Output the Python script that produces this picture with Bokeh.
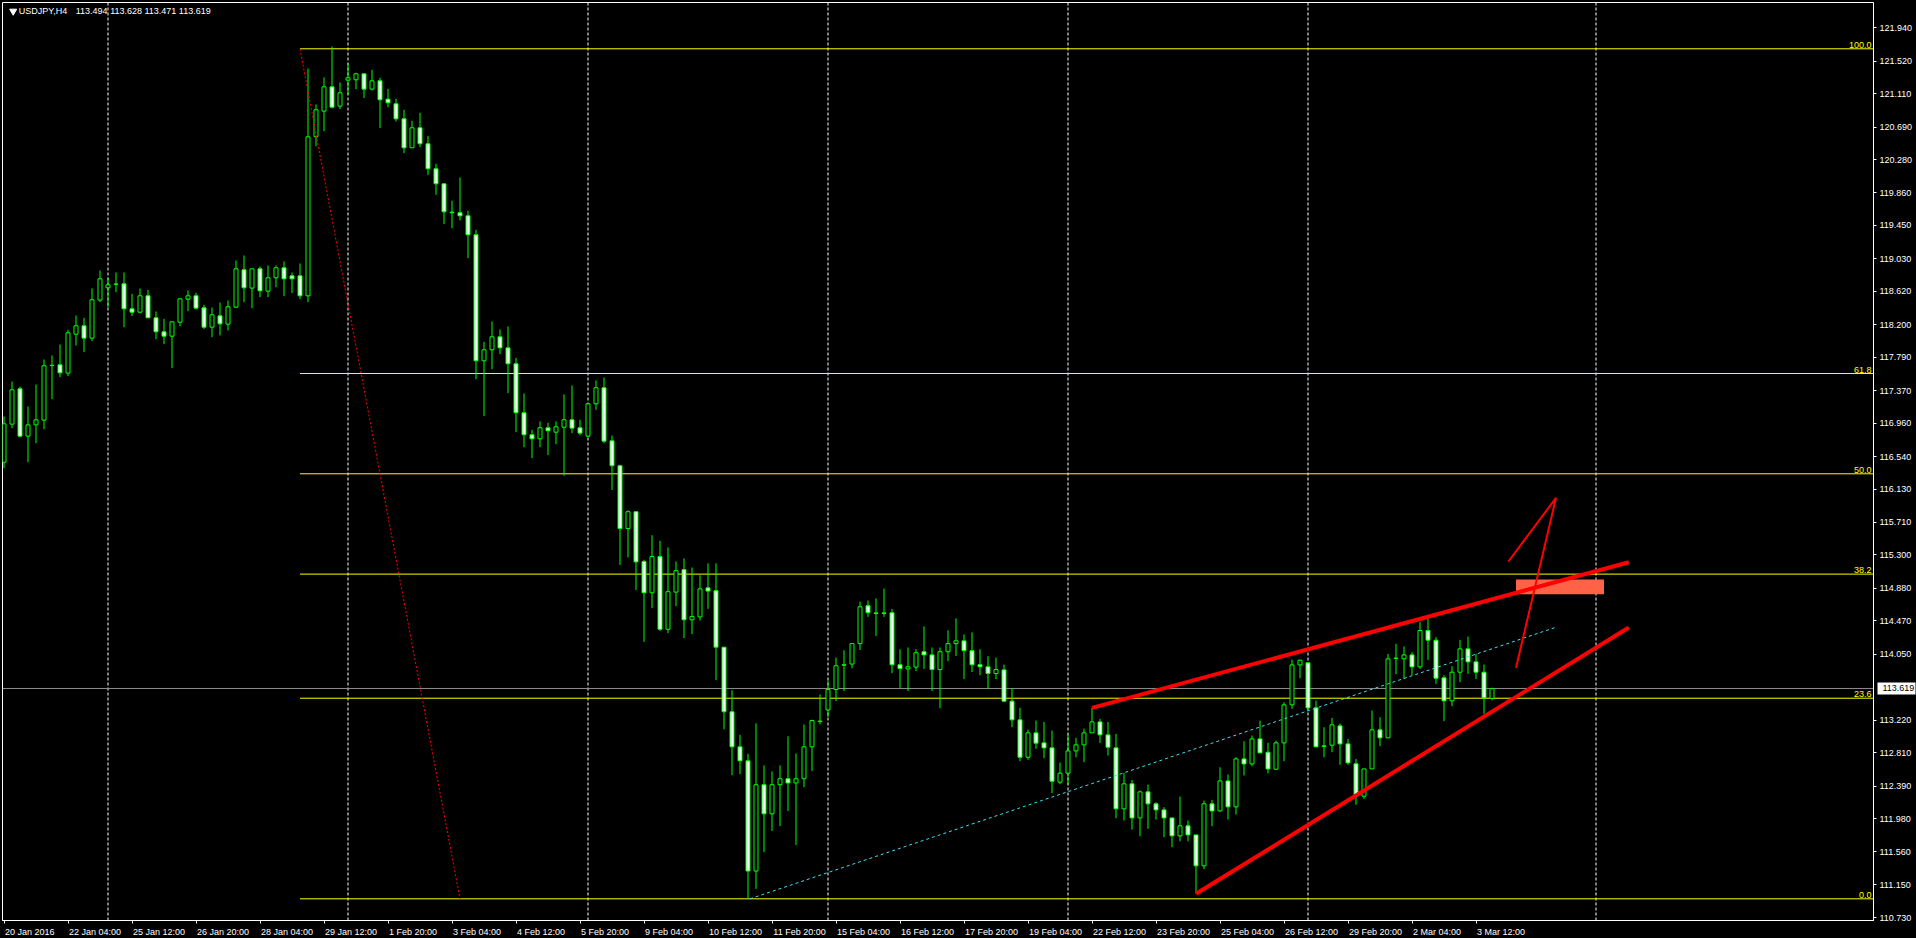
import numpy as np
from bokeh.plotting import figure
from bokeh.models import FixedTicker, Label, LinearAxis, Range1d, Span
from bokeh.embed import file_html
from bokeh.resources import INLINE
from bokeh.core.properties import value

# ---------------- data (USDJPY H4) ----------------
opens = [116.469, 116.948, 117.393, 116.797, 116.939, 116.998, 117.689, 117.695, 117.590, 118.081,
         118.186, 118.031, 118.510, 118.665, 118.713, 118.715, 118.400, 118.358, 118.564, 118.287,
         118.111, 118.056, 118.232, 118.522, 118.564, 118.413, 118.169, 118.312, 118.207, 118.421,
         118.892, 118.661, 118.904, 118.623, 118.791, 118.917, 118.816, 118.816, 118.564, 120.567,
         120.890, 121.196, 120.953, 121.280, 121.285, 121.360, 121.167, 121.272, 121.041, 120.982,
         120.793, 120.428, 120.680, 120.479, 120.164, 119.975, 119.618, 119.610, 119.572, 119.332,
         117.746, 117.884, 118.048, 117.909, 117.708, 117.091, 116.814, 116.763, 116.902, 116.847,
         116.910, 117.003, 116.902, 116.797, 117.204, 117.406, 116.738, 116.424, 115.633, 115.845,
         115.218, 114.824, 115.280, 114.365, 114.833, 115.116, 114.484, 114.520, 114.886, 114.851,
         114.139, 113.326, 112.884, 112.708, 111.320, 112.407, 112.040, 112.407, 112.482, 112.429,
         112.482, 112.884, 113.208, 113.348, 113.605, 113.912, 113.927, 114.184, 114.661, 114.570,
         114.570, 114.573, 113.918, 113.865, 113.888, 114.082, 114.042, 113.857, 114.082, 114.184,
         114.219, 114.095, 113.918, 113.892, 113.808, 113.853, 113.459, 113.224, 112.753, 113.060,
         112.934, 112.871, 112.439, 112.552, 112.833, 112.909, 113.060, 113.198, 113.035, 112.871,
         112.103, 112.418, 111.989, 112.317, 112.166, 112.090, 111.989, 111.763, 111.889, 111.775,
         111.385, 112.166, 112.077, 112.455, 112.128, 112.732, 112.669, 112.984, 112.816, 112.602,
         112.934, 113.413, 113.916, 113.942, 113.375, 112.896, 112.905, 113.148, 112.921, 112.670,
         112.262, 112.606, 113.098, 112.997, 114.002, 113.992, 114.042, 113.891, 114.349, 114.227,
         113.753, 113.463, 113.824, 114.118, 113.954, 113.824, 113.494]
highs = [117.044, 117.485, 117.422, 117.170, 117.447, 117.762, 117.813, 117.951, 118.136, 118.316,
         118.287, 118.657, 118.883, 118.795, 118.858, 118.858, 118.589, 118.657, 118.640, 118.367,
         118.274, 118.237, 118.526, 118.631, 118.602, 118.451, 118.417, 118.480, 118.505, 119.009,
         119.072, 118.904, 118.934, 118.946, 118.946, 118.997, 118.858, 118.971, 121.427, 120.974,
         121.314, 121.704, 121.251, 121.499, 121.373, 121.360, 121.411, 121.310, 121.171, 121.045,
         120.907, 120.768, 120.869, 120.579, 120.227, 119.975, 119.761, 120.055, 119.635, 119.395,
         117.985, 118.241, 118.140, 118.178, 117.783, 117.334, 116.877, 116.982, 116.965, 116.982,
         117.322, 117.435, 117.003, 117.204, 117.498, 117.536, 116.804, 116.437, 115.863, 115.845,
         115.240, 115.549, 115.478, 115.395, 115.218, 115.257, 115.143, 115.045, 115.196, 115.196,
         114.139, 113.596, 113.035, 112.796, 113.181, 112.650, 112.575, 112.650, 113.017, 112.800,
         113.167, 113.225, 113.543, 113.715, 114.007, 114.100, 114.184, 114.714, 114.727, 114.754,
         114.877, 114.621, 114.113, 114.135, 114.113, 114.400, 114.135, 114.135, 114.352, 114.502,
         114.299, 114.325, 114.113, 114.025, 114.007, 113.921, 113.622, 113.375, 113.102, 113.215,
         113.198, 113.089, 112.686, 113.047, 112.997, 113.114, 113.375, 113.236, 113.198, 113.047,
         112.556, 112.468, 112.334, 112.409, 112.187, 112.124, 111.989, 112.258, 111.956, 111.775,
         112.208, 112.216, 112.627, 112.535, 112.753, 112.955, 113.026, 113.215, 112.934, 112.963,
         113.446, 113.983, 113.983, 113.942, 113.467, 113.131, 113.249, 113.177, 112.984, 112.732,
         112.606, 113.341, 113.257, 114.055, 114.181, 114.147, 114.076, 114.454, 114.504, 114.265,
         113.786, 113.899, 114.231, 114.273, 114.055, 113.921, 113.628]
lows = [116.394, 116.897, 116.784, 116.469, 116.709, 116.885, 117.263, 117.540, 117.552, 117.939,
        117.855, 117.993, 118.484, 118.421, 118.610, 118.169, 118.308, 118.342, 118.283, 118.018,
        117.955, 117.653, 118.182, 118.371, 118.392, 118.144, 118.044, 118.065, 118.127, 118.409,
        118.484, 118.409, 118.547, 118.547, 118.673, 118.560, 118.598, 118.522, 118.484, 120.449,
        120.638, 120.924, 120.915, 121.096, 121.167, 121.054, 121.150, 120.676, 120.940, 120.760,
        120.361, 120.428, 120.437, 120.084, 119.836, 119.467, 119.416, 119.513, 119.039, 117.515,
        117.049, 117.641, 117.830, 117.338, 116.847, 116.658, 116.520, 116.658, 116.558, 116.696,
        116.300, 116.835, 116.805, 116.784, 117.128, 116.709, 116.119, 115.174, 115.271, 114.860,
        114.206, 114.630, 114.343, 114.316, 114.656, 114.254, 114.303, 114.475, 114.621, 113.724,
        113.105, 112.527, 112.540, 110.971, 111.095, 111.559, 111.824, 111.886, 112.076, 111.647,
        112.376, 112.580, 113.167, 113.260, 113.459, 113.587, 113.874, 114.104, 114.520, 114.281,
        114.520, 113.812, 113.627, 113.587, 113.839, 113.865, 113.587, 113.370, 113.963, 114.029,
        113.737, 113.826, 113.786, 113.614, 113.737, 113.446, 113.131, 112.703, 112.720, 112.858,
        112.741, 112.300, 112.413, 112.405, 112.753, 112.690, 113.060, 112.934, 112.774, 111.985,
        111.956, 111.842, 111.758, 111.851, 111.968, 111.746, 111.620, 111.695, 111.695, 111.040,
        111.343, 111.884, 112.065, 111.968, 112.031, 112.523, 112.640, 112.808, 112.552, 112.594,
        112.703, 113.362, 113.748, 113.362, 112.884, 112.753, 112.816, 112.657, 112.657, 112.153,
        112.229, 112.606, 112.892, 112.997, 113.799, 113.740, 113.790, 113.866, 113.979, 113.677,
        113.207, 113.396, 113.698, 113.803, 113.740, 113.299, 113.471]
closes = [116.952, 117.380, 116.797, 116.939, 117.002, 117.683, 117.685, 117.594, 118.098, 118.186,
          118.031, 118.514, 118.778, 118.703, 118.709, 118.400, 118.358, 118.564, 118.287, 118.111,
          118.056, 118.237, 118.526, 118.564, 118.409, 118.169, 118.325, 118.211, 118.426, 118.904,
          118.665, 118.904, 118.627, 118.791, 118.917, 118.778, 118.778, 118.564, 120.567, 120.907,
          121.196, 120.940, 121.121, 121.310, 121.360, 121.167, 121.272, 121.033, 120.995, 120.793,
          120.428, 120.680, 120.479, 120.164, 119.975, 119.622, 119.610, 119.572, 119.332, 117.746,
          117.884, 118.048, 117.909, 117.708, 117.091, 116.814, 116.763, 116.902, 116.864, 116.914,
          117.003, 116.898, 116.835, 117.204, 117.406, 116.734, 116.424, 115.633, 115.845, 115.213,
          114.824, 115.280, 114.365, 114.838, 115.103, 114.484, 114.524, 114.873, 114.846, 114.139,
          113.326, 112.884, 112.708, 111.320, 112.407, 112.040, 112.407, 112.482, 112.429, 112.482,
          112.884, 113.216, 113.202, 113.605, 113.905, 113.918, 114.184, 114.648, 114.573, 114.566,
          114.566, 113.918, 113.870, 113.892, 114.069, 114.042, 113.857, 114.082, 114.184, 114.219,
          114.095, 113.918, 113.892, 113.808, 113.857, 113.459, 113.224, 112.753, 113.060, 112.930,
          112.871, 112.451, 112.552, 112.833, 112.909, 113.060, 113.198, 113.035, 112.879, 112.103,
          112.418, 111.989, 112.317, 112.166, 112.090, 111.989, 111.763, 111.889, 111.775, 111.385,
          112.166, 112.077, 112.455, 112.128, 112.732, 112.669, 112.984, 112.808, 112.606, 112.934,
          113.413, 113.916, 113.975, 113.375, 112.884, 112.888, 113.161, 112.921, 112.682, 112.283,
          112.606, 113.098, 112.997, 113.992, 113.998, 114.042, 113.891, 114.349, 114.227, 113.748,
          113.463, 113.824, 114.118, 113.954, 113.824, 113.501, 113.619]

# time axis: one label every 8 bars
x_tick_bars = list(range(0, 185, 8))
x_tick_labels = ["20 Jan 2016", "22 Jan 04:00", "25 Jan 12:00", "26 Jan 20:00", "28 Jan 04:00",
                 "29 Jan 12:00", "1 Feb 20:00", "3 Feb 04:00", "4 Feb 12:00", "5 Feb 20:00",
                 "9 Feb 04:00", "10 Feb 12:00", "11 Feb 20:00", "15 Feb 04:00", "16 Feb 12:00",
                 "17 Feb 20:00", "19 Feb 04:00", "22 Feb 12:00", "23 Feb 20:00", "25 Feb 04:00",
                 "26 Feb 12:00", "29 Feb 20:00", "2 Mar 04:00", "3 Mar 12:00"]
# price axis labels
y_tick_values = [121.940, 121.520, 121.110, 120.690, 120.280, 119.860, 119.450, 119.030, 118.620,
                 118.200, 117.790, 117.370, 116.960, 116.540, 116.130, 115.710, 115.300, 114.880,
                 114.470, 114.050, 113.220, 112.810, 112.390, 111.980, 111.560, 111.150, 110.730]
grid_bars = [13, 43, 73, 103, 133, 163, 199]

# Fibonacci retracement
fib_start_bar, fib_end_bar = 37, 57
fib_high, fib_low = 121.675, 110.970
fib_pcts = [0.0, 23.6, 38.2, 50.0, 61.8, 100.0]
fib_texts = ["0.0", "23.6", "38.2", "50.0", "61.8", "100.0"]

last_price = 113.619
title_symbol = "USDJPY,H4"
title_ohlc = "113.494 113.628 113.471 113.619"

# drawn objects
cyan_x, cyan_y = [93.25, 193.9], [110.970, 114.387]
upper_x, upper_y = [136.0, 203.1], [113.375, 115.209]
lower_x, lower_y = [149.0, 203.1], [111.033, 114.387]
arrow_x, arrow_y = [188.05, 194.0, 189.0], [115.218, 116.020, 113.879]
zone_left, zone_right, zone_bottom, zone_top = 189.0, 200.0, 114.806, 114.991

# ---------------- layout constants ----------------
BAR_PX = 8.0
FRAME_W, FRAME_H = 1871, 918
X_START = -0.1875
X_END = X_START + FRAME_W / BAR_PX
Y_START, Y_END = 110.697, 122.258
PX_PER_PRICE = FRAME_H / (Y_END - Y_START)
RIGHT_BORDER = 43

FONT = "Liberation Sans"
FSIZE = 9
GREEN = "#00ff00"

# approximate advance widths (em) of Liberation Sans, to left-align time labels on their ticks
_W = {":": 0.278, " ": 0.278, ".": 0.278, "J": 0.5, "a": 0.556, "n": 0.556, "F": 0.611,
      "e": 0.556, "b": 0.556, "M": 0.833, "r": 0.333}
def text_px(s):
    return sum(_W.get(ch, 0.556) for ch in s) * FSIZE

p = figure(frame_width=FRAME_W, frame_height=FRAME_H, output_backend="svg", toolbar_location=None,
           x_range=Range1d(X_START, X_END), y_range=Range1d(Y_START, Y_END),
           y_axis_location="right",
           min_border_left=2, min_border_top=2, min_border_right=RIGHT_BORDER, min_border_bottom=18,
           background_fill_color="black", border_fill_color="black",
           outline_line_color="white")
p.xgrid.visible = False
p.ygrid.visible = False

for ax in (p.xaxis[0], p.yaxis[0]):
    ax.axis_line_color = "white"
    ax.major_tick_line_color = "white"
    ax.minor_tick_line_color = None
    ax.major_tick_out = 3
    ax.major_tick_in = 0
    ax.major_label_standoff = 3
    ax.major_label_text_color = "white"
    ax.major_label_text_font = FONT
    ax.major_label_text_font_size = f"{FSIZE}px"

# time axis: tick marks are the minor ticks at the bars, labels sit on (invisible)
# major ticks shifted so that each label starts just right of its tick mark
label_pos = [b + (text_px(t) / 2 + 1) / BAR_PX for b, t in zip(x_tick_bars, x_tick_labels)]
p.xaxis.ticker = FixedTicker(ticks=label_pos, minor_ticks=x_tick_bars)
p.xaxis.major_label_overrides = {pos: t for pos, t in zip(label_pos, x_tick_labels)}
p.xaxis.major_tick_line_color = None
p.xaxis.minor_tick_line_color = "white"
p.xaxis.minor_tick_out = 3
p.xaxis.minor_tick_in = 0

p.yaxis.ticker = FixedTicker(ticks=y_tick_values)
p.yaxis.major_label_overrides = {v: f"{v:.3f}" for v in y_tick_values}

# current price tag: second right axis stacked after the price axis; its minor tick is
# drawn as a thick white bar reaching back to the frame, its label pulled back onto it
main_axis_px = 3 + 3 + text_px("121.940")
tag_axis = LinearAxis(ticker=FixedTicker(ticks=[last_price], minor_ticks=[last_price]),
                      major_label_overrides={last_price: f"{last_price:.3f}"},
                      axis_line_color=None, major_tick_line_color=None,
                      major_tick_in=0, major_tick_out=0,
                      minor_tick_line_color="white", minor_tick_line_width=12,
                      minor_tick_in=int(round(main_axis_px)) - 1, minor_tick_out=0,
                      major_label_standoff=-int(round(main_axis_px)) + 6,
                      major_label_text_color="black", major_label_text_font=FONT,
                      major_label_text_font_size=f"{FSIZE}px")
p.add_layout(tag_axis, "right")

# vertical dotted grid
for b in grid_bars:
    p.add_layout(Span(location=b, dimension="height", line_color="white",
                      line_dash="3 2", line_width=1, level="underlay"))

# fib levels
fib_levels = [fib_low + pc / 100.0 * (fib_high - fib_low) for pc in fib_pcts]
p.segment(x0=[fib_start_bar] * len(fib_levels), x1=[X_END] * len(fib_levels),
          y0=fib_levels, y1=fib_levels, line_color="#ffff00", line_width=1)
p.text(x=[X_END] * len(fib_levels), y=fib_levels, text=fib_texts, text_align="right",
       text_baseline="bottom", x_offset=-2, y_offset=-1, text_color="#ffff00",
       text_font=value(FONT), text_font_size=f"{FSIZE}px")

# current price line
p.add_layout(Span(location=last_price, dimension="width", line_color="#8c8c8c",
                  line_width=1, level="underlay"))

# candles
idx = np.arange(len(opens))
o = np.array(opens); c = np.array(closes); h = np.array(highs); l = np.array(lows)
p.segment(x0=idx, x1=idx, y0=l, y1=h, line_color=GREEN, line_width=1)
body_fill = ["black" if cc > oo else "white" for oo, cc in zip(o, c)]
p.vbar(x=idx, width=0.5, top=np.maximum(o, c), bottom=np.minimum(o, c),
       fill_color=body_fill, line_color=GREEN, line_width=1)

# fib trend line (dotted red)
p.line([fib_start_bar, fib_end_bar], [fib_high, fib_low], line_color="#ff0000",
       line_dash="2 2", line_width=1)

# cyan dotted trend
p.line(cyan_x, cyan_y, line_color="#3ee0ea", line_dash="3 3", line_width=1)

# target zone
p.quad(left=[zone_left], right=[zone_right], bottom=[zone_bottom], top=[zone_top],
       fill_color="#ff6347", line_color=None)

# wedge lines
p.line(upper_x, upper_y, line_color="#ff0000", line_width=4)
p.line(lower_x, lower_y, line_color="#ff0000", line_width=4)
p.line(arrow_x, arrow_y, line_color="#ff0000", line_width=2)

# title
title_y = Y_END - 8.7 / PX_PER_PRICE
p.scatter([1.15], [title_y], marker="inverted_triangle", size=7,
          fill_color="white", line_color="white")
p.add_layout(Label(x=1.85, y=title_y, text=title_symbol, text_color="white",
                   text_font=FONT, text_font_size=f"{FSIZE}px", text_baseline="middle"))
p.add_layout(Label(x=8.97, y=title_y, text=title_ohlc, text_color="white",
                   text_font=FONT, text_font_size=f"{FSIZE}px", text_baseline="middle"))

html = file_html(p, INLINE, title="USDJPY,H4")
html = html.replace("<head>", "<head><style>html,body{margin:0;padding:0;overflow:hidden;background:#000}</style>", 1)
open("out.html", "w").write(html)
